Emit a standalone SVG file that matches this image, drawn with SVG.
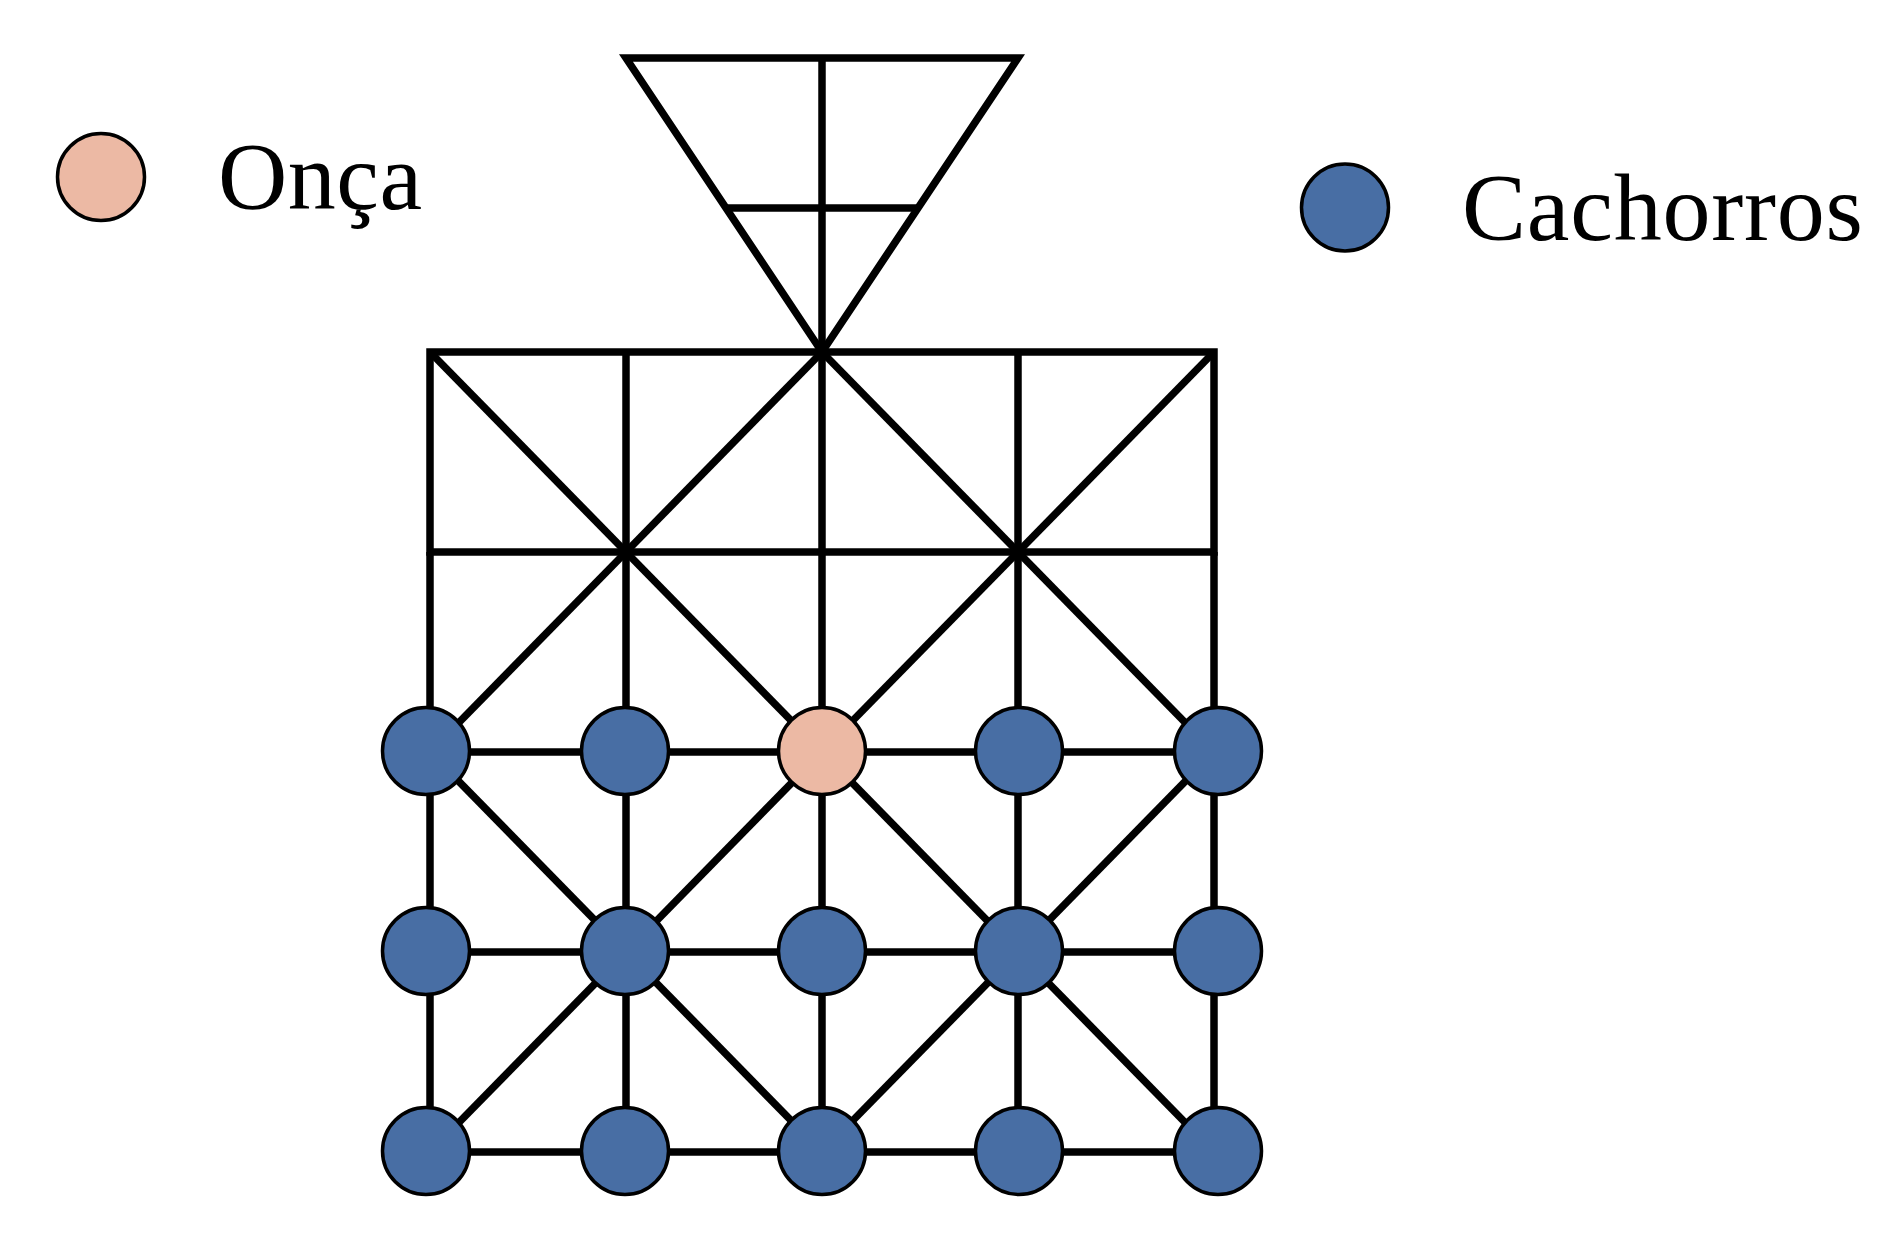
<svg xmlns="http://www.w3.org/2000/svg" width="1881" height="1236" viewBox="0 0 1881 1236">
<style>
.ln{stroke:#000;stroke-width:7.5;fill:none;stroke-linecap:butt;stroke-linejoin:miter;stroke-miterlimit:10}
.dog{fill:#486EA4;stroke:#000;stroke-width:3.5}
.jag{fill:#ECB9A4;stroke:#000;stroke-width:3.5}
.lbl{font-family:"Liberation Serif","Times New Roman",serif;font-size:96px;fill:#000}
</style>
<rect width="1881" height="1236" fill="#fff"/>
<g id="connectors">
<polygon class="ln" points="626,58 1018,58 822,352"/>
<line class="ln" x1="822" y1="58" x2="822" y2="352"/>
<line class="ln" x1="726" y1="208" x2="918" y2="208"/>
<rect class="ln" x="430" y="352" width="784" height="200"/>
<line class="ln" x1="430" y1="552" x2="430" y2="1152"/>
<line class="ln" x1="626" y1="352" x2="626" y2="1152"/>
<line class="ln" x1="822" y1="352" x2="822" y2="1152"/>
<line class="ln" x1="1018" y1="352" x2="1018" y2="1152"/>
<line class="ln" x1="1214" y1="552" x2="1214" y2="1152"/>
<line class="ln" x1="430" y1="752" x2="1214" y2="752"/>
<line class="ln" x1="430" y1="952" x2="1214" y2="952"/>
<line class="ln" x1="430" y1="1152" x2="1214" y2="1152"/>
<line class="ln" x1="430" y1="352" x2="626" y2="552"/>
<line class="ln" x1="626" y1="552" x2="822" y2="352"/>
<line class="ln" x1="822" y1="352" x2="1018" y2="552"/>
<line class="ln" x1="1018" y1="552" x2="1214" y2="352"/>
<line class="ln" x1="626" y1="552" x2="430" y2="752"/>
<line class="ln" x1="626" y1="552" x2="822" y2="752"/>
<line class="ln" x1="1018" y1="552" x2="822" y2="752"/>
<line class="ln" x1="1018" y1="552" x2="1214" y2="752"/>
<line class="ln" x1="430" y1="752" x2="626" y2="952"/>
<line class="ln" x1="822" y1="752" x2="626" y2="952"/>
<line class="ln" x1="822" y1="752" x2="1018" y2="952"/>
<line class="ln" x1="1214" y1="752" x2="1018" y2="952"/>
<line class="ln" x1="626" y1="952" x2="430" y2="1152"/>
<line class="ln" x1="626" y1="952" x2="822" y2="1152"/>
<line class="ln" x1="1018" y1="952" x2="822" y2="1152"/>
<line class="ln" x1="1018" y1="952" x2="1214" y2="1152"/>
</g>
<g id="legend-onca"><circle class="jag" cx="101" cy="177" r="43.5"/><text class="lbl" x="218" y="209" letter-spacing="0.5">Onça</text></g>
<g id="legend-cachorros"><circle class="dog" cx="1345" cy="207.5" r="43.5"/><text class="lbl" x="1462" y="240" letter-spacing="0.8">Cachorros</text></g>
<g id="n-1-1"><circle class="dog" cx="426" cy="751" r="43.5"/></g>
<g id="n-1-2"><circle class="dog" cx="625" cy="751" r="43.5"/></g>
<g id="n-1-3"><circle class="jag" cx="822" cy="751" r="43.5"/></g>
<g id="n-1-4"><circle class="dog" cx="1019" cy="751" r="43.5"/></g>
<g id="n-1-5"><circle class="dog" cx="1218" cy="751" r="43.5"/></g>
<g id="n-2-1"><circle class="dog" cx="426" cy="951" r="43.5"/></g>
<g id="n-2-2"><circle class="dog" cx="625" cy="951" r="43.5"/></g>
<g id="n-2-3"><circle class="dog" cx="822" cy="951" r="43.5"/></g>
<g id="n-2-4"><circle class="dog" cx="1019" cy="951" r="43.5"/></g>
<g id="n-2-5"><circle class="dog" cx="1218" cy="951" r="43.5"/></g>
<g id="n-3-1"><circle class="dog" cx="426" cy="1151" r="43.5"/></g>
<g id="n-3-2"><circle class="dog" cx="625" cy="1151" r="43.5"/></g>
<g id="n-3-3"><circle class="dog" cx="822" cy="1151" r="43.5"/></g>
<g id="n-3-4"><circle class="dog" cx="1019" cy="1151" r="43.5"/></g>
<g id="n-3-5"><circle class="dog" cx="1218" cy="1151" r="43.5"/></g>
</svg>
